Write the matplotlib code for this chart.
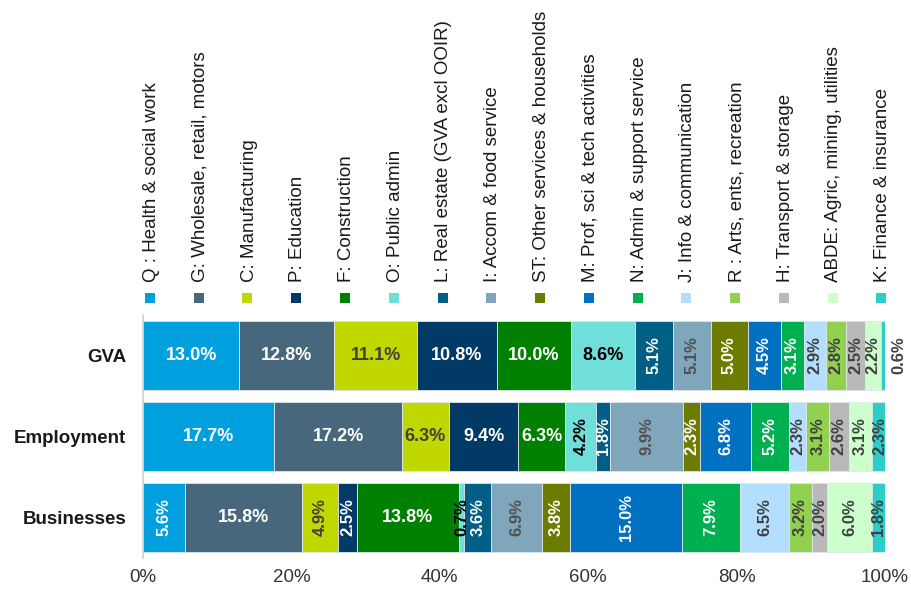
import matplotlib
matplotlib.use("Agg")
import matplotlib.pyplot as plt
from matplotlib.patches import Rectangle

plt.rcParams['font.family'] = ['Liberation Sans', 'DejaVu Sans']

# Rows of the stacked bar (top to bottom)
rows = ["GVA", "Employment", "Businesses"]

# Industry sectors, in stacking order
sectors = [
    "Q : Health & social work",
    "G: Wholesale, retail, motors",
    "C: Manufacturing",
    "P: Education",
    "F: Construction",
    "O: Public admin",
    "L: Real estate (GVA excl OOIR)",
    "I: Accom & food service",
    "ST: Other services & households",
    "M: Prof, sci & tech activities",
    "N: Admin & support service",
    "J: Info & communication",
    "R : Arts, ents, recreation",
    "H: Transport & storage",
    "ABDE: Agric, mining, utilities",
    "K: Finance & insurance",
]

# Percentage share of each sector, per row
gva        = [13.0, 12.8, 11.1, 10.8, 10.0, 8.6, 5.1, 5.1, 5.0, 4.5, 3.1, 2.9, 2.8, 2.5, 2.2, 0.6]
employment = [17.7, 17.2, 6.3, 9.4, 6.3, 4.2, 1.8, 9.9, 2.3, 6.8, 5.2, 2.3, 3.1, 2.6, 3.1, 2.3]
businesses = [5.6, 15.8, 4.9, 2.5, 13.8, 0.7, 3.6, 6.9, 3.8, 15.0, 7.9, 6.5, 3.2, 2.0, 6.0, 1.8]

xticks = [0, 20, 40, 60, 80, 100]
xtick_labels = ["0%", "20%", "40%", "60%", "80%", "100%"]

# Styling
colors = [
    "#00A0DF", "#46677C", "#C0D700", "#013A66", "#008000", "#70DFDA",
    "#015E84", "#80A6BC", "#6D7B00", "#0070C0", "#00B050", "#B4DEFF",
    "#92D050", "#B9B9B9", "#CCFFCC", "#2DCDC9",
]
label_colors = [
    "white", "white", "#404040", "white", "white", "black",
    "white", "#505050", "white", "white", "white", "#404040",
    "#404040", "#404040", "#404040", "#404040",
]
# segments whose value label is written horizontally (row index, sector index)
horizontal = {(0, 0), (0, 1), (0, 2), (0, 3), (0, 4), (0, 5),
              (1, 0), (1, 1), (1, 2), (1, 3), (1, 4),
              (2, 1), (2, 4)}

W, H = 911, 589
fig = plt.figure(figsize=(W / 100, H / 100), dpi=100)
ax = fig.add_axes([143 / W, 1 - 558 / H, 742 / W, 243 / H])

series = [gva, employment, businesses]
ypos = list(range(len(rows)))
bar_h = 0.84

for j, name in enumerate(sectors):
    vals = [s[j] for s in series]
    lefts = [sum(s[:j]) for s in series]
    ax.barh(ypos, vals, left=lefts, height=bar_h, color=colors[j],
            edgecolor="#dfe6ec", linewidth=0.6, label=name)
    for i, (v, l) in enumerate(zip(vals, lefts)):
        txt = f"{v:.1f}%"
        if (i, j) in horizontal:
            ax.text(l + v / 2, i, txt, ha="center", va="center",
                    color=label_colors[j], fontsize=13, fontweight="bold")
        elif i == 0 and j == len(sectors) - 1:
            # tiny slice: label sits just outside the bar end
            ax.text(l + v + 1.8, i, txt, ha="center", va="center", rotation=90,
                    color="#404040", fontsize=12, fontweight="bold", clip_on=False)
        else:
            ax.text(l + v / 2, i, txt, ha="center", va="center", rotation=90,
                    color=label_colors[j], fontsize=12, fontweight="bold")

ax.set_xlim(0, 100)
ax.set_ylim(len(rows) - 0.5, -0.5)
ax.set_yticks(ypos)
ax.set_yticklabels(rows, fontsize=13.5, fontweight="bold", color="#1a1a1a")
ax.set_xticks(xticks)
ax.set_xticklabels(xtick_labels, fontsize=13.5, color="#333333")
ax.tick_params(axis="both", length=0)
ax.tick_params(axis="x", pad=8)
ax.tick_params(axis="y", pad=12)
for side in ["top", "right", "bottom"]:
    ax.spines[side].set_visible(False)
ax.spines["left"].set_color("#d0d0d0")
ax.spines["left"].set_linewidth(1.2)

# Legend: a row of colour keys with upright (rotated) labels above the bars
x0, dx = 150, 48.75
for j, name in enumerate(sectors):
    xc = x0 + j * dx
    fig.patches.append(Rectangle(((xc - 5) / W, 1 - 303 / H), 10 / W, 10 / H,
                                 transform=fig.transFigure, facecolor=colors[j],
                                 edgecolor="none"))
    fig.text((xc + 1.5) / W, 1 - 282 / H, name, rotation=90, ha="center",
             va="bottom", fontsize=13.5, color="#1a1a1a")

fig.savefig("out.png", dpi=100)
